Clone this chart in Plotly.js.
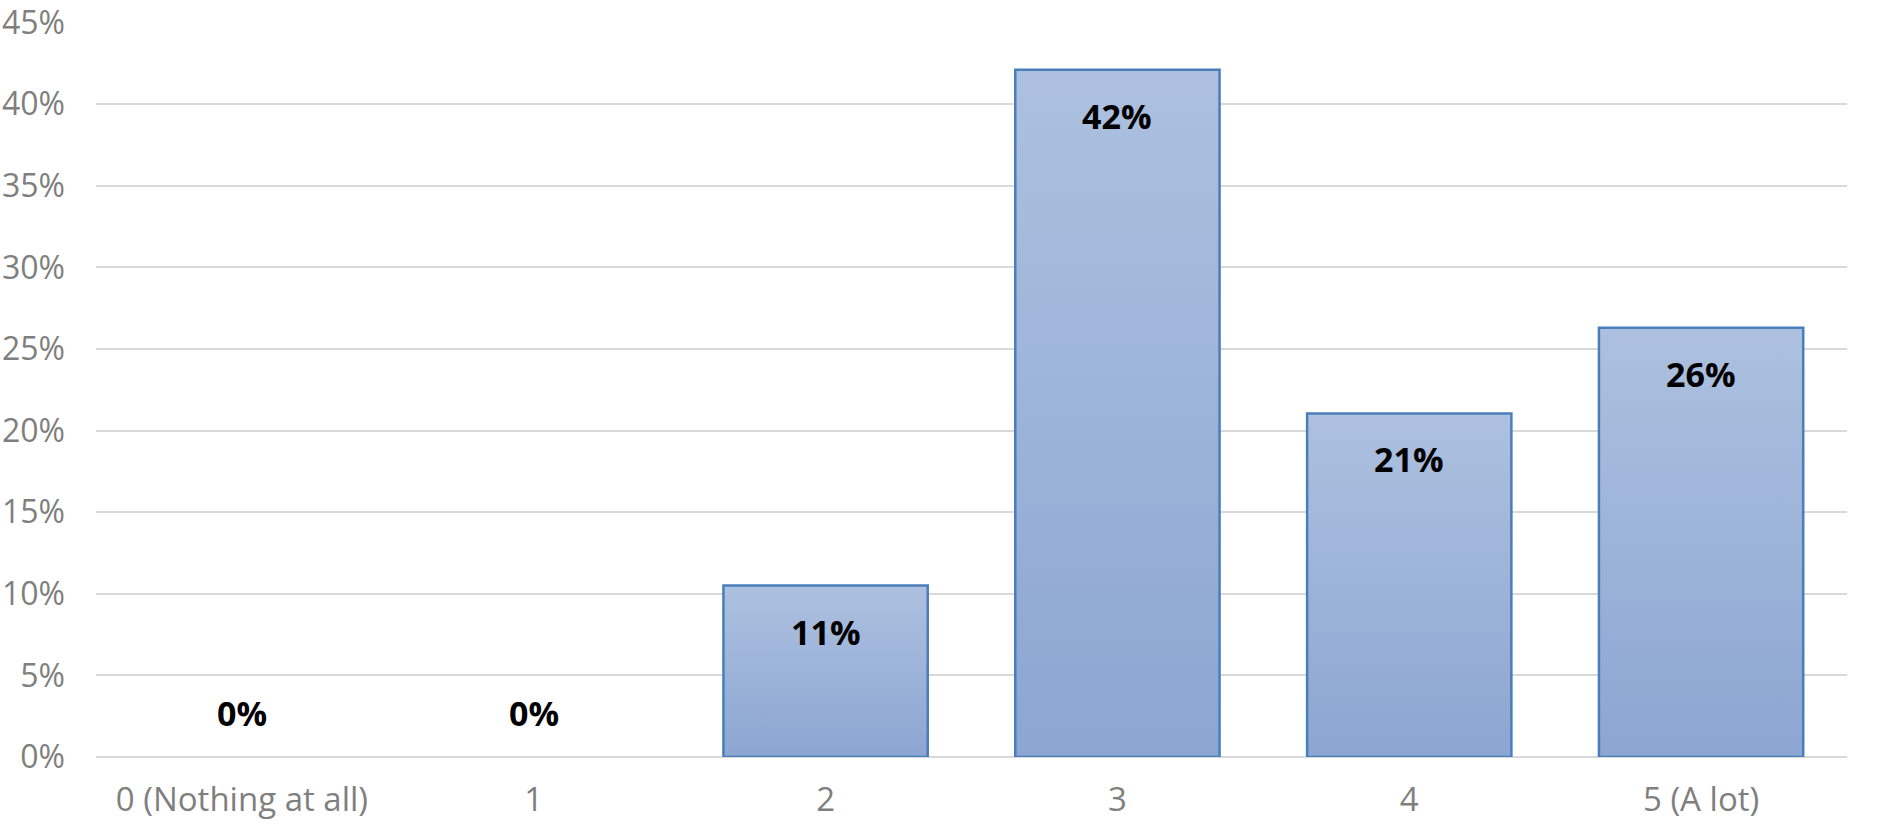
<!DOCTYPE html>
<html>
<head>
<meta charset="utf-8">
<script src="https://cdn.plot.ly/plotly-3.0.1.min.js"></script>
<style>
  html, body { margin: 0; padding: 0; background: #fff; }
  #chart { width: 1892px; height: 825px; }
</style>
</head>
<body>
<div id="chart"></div>
<script>
// ratings, share of answers
const categories = ['0 (Nothing at all)', '1', '2', '3', '4', '5 (A lot)'];
const shares = [0, 0, 0.105, 0.421, 0.2105, 0.263];
const shareLabels = ['0%', '0%', '11%', '42%', '21%', '26%'];
const yTicks = [0, 0.05, 0.10, 0.15, 0.20, 0.25, 0.30, 0.35, 0.40, 0.45];

const bars = {
  type: 'bar',
  x: categories,
  y: shares,
  width: 0.7,
  marker: {
    color: '#9db2d8',
    // no outline on empty bars, Excel draws nothing there
    line: { color: '#4a7ebb', width: shares.map(v => v > 0 ? 2.5 : 0) }
  },
  hoverinfo: 'skip'
};

// Excel style labels: just inside the top of each bar, above the axis for zeros
const labels = categories.map((c, i) => ({
  x: c,
  y: shares[i],
  text: '<b>' + shareLabels[i] + '</b>',
  showarrow: false,
  yshift: shares[i] > 0 ? -46 : 44,
  font: { family: 'Open Sans', size: 34, color: '#000' }
}));

const layout = {
  width: 1892,
  height: 825,
  margin: { l: 96, r: 45, t: 22, b: 68 },
  paper_bgcolor: '#fff',
  plot_bgcolor: '#fff',
  showlegend: false,
  font: { family: 'Open Sans', color: '#7f7f7f' },
  xaxis: {
    type: 'category',
    showgrid: false,
    showline: false,
    ticks: '',
    ticklabelstandoff: 20,
    tickfont: { size: 33, color: '#7f7f7f' }
  },
  yaxis: {
    range: [0, 0.4503],
    tickvals: yTicks,
    tickformat: '.0%',
    ticklabeloverflow: 'allow',
    showgrid: true,
    gridcolor: '#d9d9d9',
    gridwidth: 2,
    zeroline: true,
    zerolinecolor: '#d9d9d9',
    zerolinewidth: 2,
    showline: false,
    ticks: '',
    ticklabelstandoff: 30,
    tickfont: { size: 32, color: '#7f7f7f' }
  },
  annotations: labels
};

Plotly.newPlot('chart', [bars], layout, { staticPlot: true }).then(gd => {
  // vertical gradient like the original bar fill
  const svg = gd.querySelector('svg.main-svg');
  const ns = 'http://www.w3.org/2000/svg';
  let defs = svg.querySelector('defs');
  const grad = document.createElementNS(ns, 'linearGradient');
  grad.setAttribute('id', 'barfill');
  grad.setAttribute('x1', '0'); grad.setAttribute('y1', '0');
  grad.setAttribute('x2', '0'); grad.setAttribute('y2', '1');
  [['0', '#adc0df'], ['1', '#8ca6d2']].forEach(([o, c]) => {
    const s = document.createElementNS(ns, 'stop');
    s.setAttribute('offset', o);
    s.setAttribute('stop-color', c);
    grad.appendChild(s);
  });
  defs.appendChild(grad);
  gd.querySelectorAll('.bars .point path').forEach(p => {
    p.style.fill = 'url(#barfill)';
  });
});
</script>
</body>
</html>
